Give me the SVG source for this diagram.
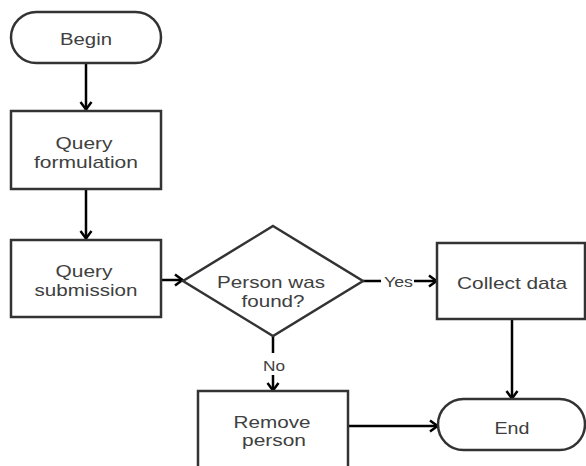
<svg xmlns="http://www.w3.org/2000/svg" width="586" height="466" viewBox="0 0 586 466">
<style>
.n{fill:#fff;stroke:#333;stroke-width:2.5}
.t{font-family:"Liberation Sans",Arial,sans-serif;font-size:17px;fill:#404040;text-anchor:middle}
.l{font-family:"Liberation Sans",Arial,sans-serif;font-size:15px;fill:#404040;text-anchor:middle}
.c{fill:none;stroke:#000;stroke-width:2.5}
</style>
<defs>
<marker id="a" markerUnits="userSpaceOnUse" markerWidth="14" markerHeight="14" viewBox="0 0 14 14" refX="12" refY="7" orient="auto">
<path d="M4,1.5 L11.5,7 L4,12.5" fill="none" stroke="#000" stroke-width="2.5"/>
</marker>
</defs>
<rect width="586" height="466" fill="#fff"/>
<g id="connectors">
<path class="c" d="M86,63 L86,110" marker-end="url(#a)"/>
<path class="c" d="M86,189 L86,239" marker-end="url(#a)"/>
<path class="c" d="M161,280 L183,280" marker-end="url(#a)"/>
<path class="c" d="M363,281 L437,281" marker-end="url(#a)"/>
<rect x="381" y="272" width="33" height="18" fill="#fff"/>
<text class="l" x="398.5" y="287" textLength="29" lengthAdjust="spacingAndGlyphs">Yes</text>
<path class="c" d="M273,336 L273,391" marker-end="url(#a)"/>
<rect x="261" y="353" width="26" height="22" fill="#fff"/>
<text class="l" x="274" y="371" textLength="22" lengthAdjust="spacingAndGlyphs">No</text>
<path class="c" d="M512,319 L512,399" marker-end="url(#a)"/>
<path class="c" d="M348,426 L438,426" marker-end="url(#a)"/>
</g>
<g id="begin">
<rect class="n" x="11" y="12" width="150" height="51" rx="25.5" ry="25.5"/>
<text class="t" x="86" y="45" textLength="52" lengthAdjust="spacingAndGlyphs">Begin</text>
</g>
<g id="query-formulation">
<rect class="n" x="11" y="111" width="150" height="78"/>
<text class="t" x="84" y="149" textLength="57" lengthAdjust="spacingAndGlyphs">Query</text>
<text class="t" x="86" y="168" textLength="104" lengthAdjust="spacingAndGlyphs">formulation</text>
</g>
<g id="query-submission">
<rect class="n" x="11" y="240" width="150" height="77"/>
<text class="t" x="84" y="277" textLength="57" lengthAdjust="spacingAndGlyphs">Query</text>
<text class="t" x="86" y="296" textLength="103" lengthAdjust="spacingAndGlyphs">submission</text>
</g>
<g id="decision">
<polygon class="n" points="273,226 363,281 273,336 183,281"/>
<text class="t" x="271" y="288" textLength="108" lengthAdjust="spacingAndGlyphs">Person was</text>
<text class="t" x="273" y="307" textLength="63" lengthAdjust="spacingAndGlyphs">found?</text>
</g>
<g id="collect-data">
<rect class="n" x="437" y="243" width="148" height="76"/>
<text class="t" x="512" y="289" textLength="110" lengthAdjust="spacingAndGlyphs">Collect data</text>
</g>
<g id="remove-person">
<rect class="n" x="198" y="391" width="150" height="85"/>
<text class="t" x="272" y="428" textLength="77" lengthAdjust="spacingAndGlyphs">Remove</text>
<text class="t" x="274" y="446" textLength="64" lengthAdjust="spacingAndGlyphs">person</text>
</g>
<g id="end">
<rect class="n" x="438" y="399" width="147" height="51" rx="25.5" ry="25.5"/>
<text class="t" x="512" y="434" textLength="35" lengthAdjust="spacingAndGlyphs">End</text>
</g>
</svg>
